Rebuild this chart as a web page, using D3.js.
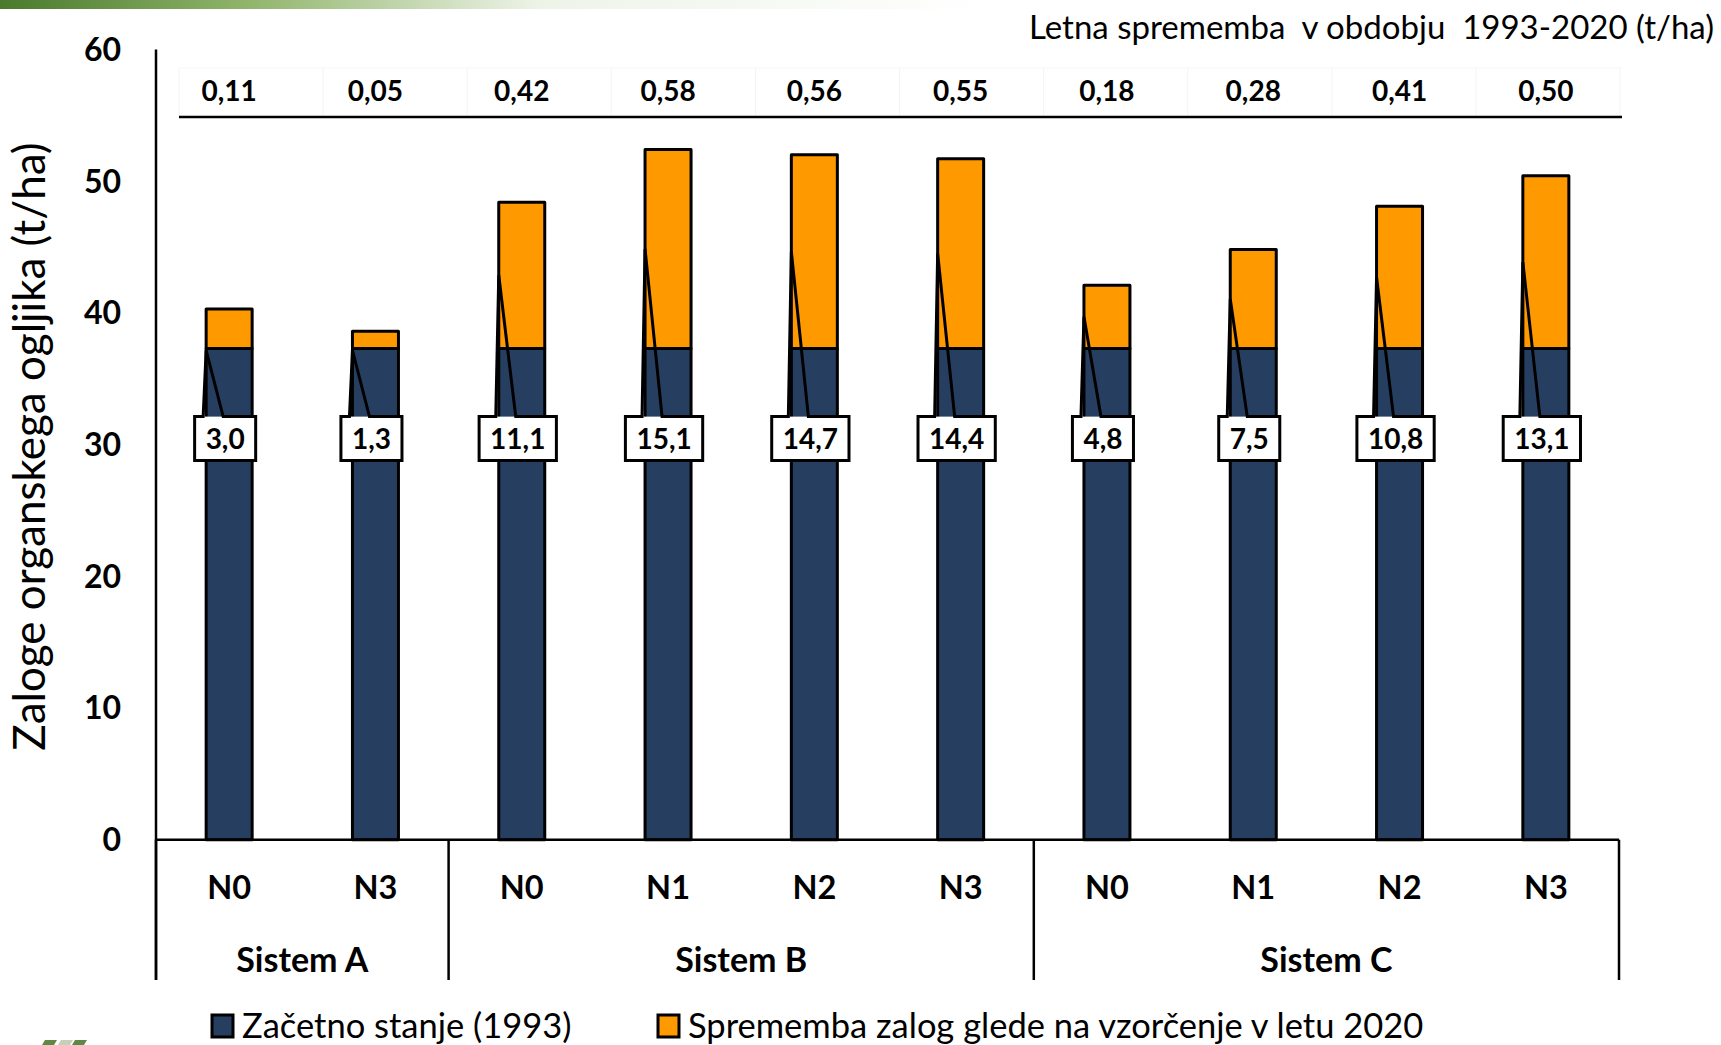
<!DOCTYPE html>
<html>
<head>
<meta charset="utf-8">
<script src="https://cdn.jsdelivr.net/npm/d3@7"></script>
<style>
  html, body { margin: 0; padding: 0; background: #fff; }
  svg { display: block; }
  text { font-family: Lato, "Open Sans", sans-serif; fill: #000; }
</style>
</head>
<body>
<svg id="chart" width="1721" height="1045"></svg>
<script>
// ---------------- data ----------------
const categories = ["N0", "N3", "N0", "N1", "N2", "N3", "N0", "N1", "N2", "N3"];
const groupNames = ["Sistem A", "Sistem B", "Sistem C"];
const groupSizes = [2, 4, 4];
const initialStock = [37.3, 37.3, 37.3, 37.3, 37.3, 37.3, 37.3, 37.3, 37.3, 37.3];
const stockChange = [3.0, 1.3, 11.1, 15.1, 14.7, 14.4, 4.8, 7.5, 10.8, 13.1];
const annualChange = [0.11, 0.05, 0.42, 0.58, 0.56, 0.55, 0.18, 0.28, 0.41, 0.50];
const yTicks = [0, 10, 20, 30, 40, 50, 60];
const seriesNames = ["Začetno stanje (1993)", "Sprememba zalog glede na vzorčenje v letu 2020"];
const tableTitle = "Letna sprememba  v obdobju  1993-2020 (t/ha)";
const yTitle = "Zaloge organskega ogljika (t/ha)";

// ---------------- layout ----------------
const pL = 156, pR = 1619, pT = 49.4, pB = 839.7;
const colors = ["#263F61", "#FF9900"];
const svg = d3.select("#chart");

const ids = categories.map((c, i) => i);
const x = d3.scaleBand().domain(ids).range([pL, pR]).padding(0);
const y = d3.scaleLinear().domain([0, 60]).range([pB, pT]);
const barW = 46;
const commaFmt = (f) => (v) => d3.format(f)(v).replace(".", ",");

// decorative green gradient top bar
const defs = svg.append("defs");
const grad = defs.append("linearGradient").attr("id", "topgrad").attr("x1", "0").attr("x2", "1");
grad.append("stop").attr("offset", "0").attr("stop-color", "#4a7a2c");
grad.append("stop").attr("offset", "0.25").attr("stop-color", "#8fb46a");
grad.append("stop").attr("offset", "0.55").attr("stop-color", "#eef3e8");
grad.append("stop").attr("offset", "1").attr("stop-color", "#ffffff");
svg.append("rect").attr("x", 0).attr("y", 0).attr("width", 980).attr("height", 9).attr("fill", "url(#topgrad)");

// ---------------- top table (annual change) ----------------
const tableTop = 68, tableLine = 117;
svg.append("g").selectAll("line").data(d3.range(categories.length + 1)).join("line")
  .attr("x1", i => pL + 23 + i * x.bandwidth() * 0.985)
  .attr("x2", i => pL + 23 + i * x.bandwidth() * 0.985)
  .attr("y1", tableTop).attr("y2", tableLine)
  .attr("stroke", "#f4f4f4").attr("stroke-width", 1);
svg.append("line").attr("x1", 179).attr("x2", 1622).attr("y1", tableTop).attr("y2", tableTop)
  .attr("stroke", "#f6f6f6").attr("stroke-width", 1);
svg.append("line").attr("x1", 179).attr("x2", 1622).attr("y1", tableLine).attr("y2", tableLine)
  .attr("stroke", "#000").attr("stroke-width", 2.5);
svg.append("g").selectAll("text").data(ids).join("text")
  .attr("x", i => x(i) + x.bandwidth() / 2)
  .attr("y", 101)
  .attr("text-anchor", "middle")
  .attr("font-size", 28).attr("font-weight", 700)
  .text(i => commaFmt(".2f")(annualChange[i]));
svg.append("text").attr("x", 1714).attr("y", 39).attr("text-anchor", "end")
  .attr("font-size", 33).style("white-space", "pre").text(tableTitle);

// ---------------- y axis ----------------
svg.append("line").attr("x1", pL).attr("x2", pL).attr("y1", pT).attr("y2", 980)
  .attr("stroke", "#000").attr("stroke-width", 2.5);
svg.append("g").selectAll("text").data(yTicks).join("text")
  .attr("x", 121).attr("y", d => y(d) + 11.5)
  .attr("text-anchor", "end").attr("font-size", 32).attr("font-weight", 700)
  .text(d => d);
svg.append("text")
  .attr("transform", `translate(45, ${(pT + pB) / 2 + 2}) rotate(-90)`)
  .attr("text-anchor", "middle").attr("font-size", 44)
  .text(yTitle);

// ---------------- bars ----------------
const stacked = ids.map(i => [
  { s: 0, y0: 0, y1: initialStock[i], i },
  { s: 1, y0: initialStock[i], y1: initialStock[i] + stockChange[i], i }
]);
const barG = svg.append("g");
barG.selectAll("g").data(stacked).join("g")
  .selectAll("rect").data(d => d).join("rect")
  .attr("x", d => x(d.i) + (x.bandwidth() - barW) / 2)
  .attr("width", barW)
  .attr("y", d => y(d.y1))
  .attr("height", d => y(d.y0) - y(d.y1))
  .attr("fill", d => colors[d.s])
  .attr("stroke", "#000").attr("stroke-width", 3).attr("stroke-linejoin", "round");

// ---------------- x axis / category table ----------------
svg.append("line").attr("x1", pL).attr("x2", pR).attr("y1", pB).attr("y2", pB)
  .attr("stroke", "#000").attr("stroke-width", 2.5);
const groupBounds = [0];
groupSizes.forEach((n, k) => groupBounds.push(groupBounds[k] + n));
svg.append("g").selectAll("line").data(groupBounds).join("line")
  .attr("x1", b => pL + b * x.bandwidth()).attr("x2", b => pL + b * x.bandwidth())
  .attr("y1", pB).attr("y2", 980)
  .attr("stroke", "#000").attr("stroke-width", 2.5);
svg.append("g").selectAll("text").data(ids).join("text")
  .attr("x", i => x(i) + x.bandwidth() / 2).attr("y", 899)
  .attr("text-anchor", "middle").attr("font-size", 32.5).attr("font-weight", 700)
  .text(i => categories[i]);
svg.append("g").selectAll("text").data(groupNames).join("text")
  .attr("x", (g, k) => pL + (groupBounds[k] + groupBounds[k + 1]) / 2 * x.bandwidth())
  .attr("y", 972)
  .attr("text-anchor", "middle").attr("font-size", 34).attr("font-weight", 700)
  .text(g => g);

// ---------------- callouts ----------------
const calloutCenter = 30.45;
const boxH = 44;
const cg = svg.append("g");
ids.forEach(i => {
  const barLeft = x(i) + (x.bandwidth() - barW) / 2;
  const cx = x(i) + x.bandwidth() / 2 - 4;
  const label = commaFmt(".1f")(stockChange[i]);
  const t = cg.append("text").attr("x", cx).attr("y", y(calloutCenter) + 10)
    .attr("text-anchor", "middle").attr("font-size", 28).attr("font-weight", 700).text(label);
  const tw = t.node().getComputedTextLength();
  const bw = tw + 22;
  const bL = cx - bw / 2, bR = cx + bw / 2;
  const bT = y(calloutCenter) - boxH / 2, bB = bT + boxH;
  const tipV = stockChange[i] >= 4 ? initialStock[i] + stockChange[i] / 2 : initialStock[i];
  const tipY = y(tipV) + (stockChange[i] >= 4 ? 0 : 2);
  const wL = barLeft - 3, wR = barLeft + 17;
  cg.insert("rect", "text").attr("x", bL).attr("y", bT).attr("width", bw).attr("height", boxH).attr("fill", "#fff");
  const p = d3.path();
  p.moveTo(bL, bT); p.lineTo(wL, bT); p.lineTo(barLeft, tipY); p.lineTo(wR, bT);
  p.lineTo(bR, bT); p.lineTo(bR, bB); p.lineTo(bL, bB); p.closePath();
  cg.insert("path", "text").attr("d", p.toString()).attr("fill", "none")
    .attr("stroke", "#000").attr("stroke-width", 3).attr("stroke-linejoin", "miter");
});

// ---------------- legend ----------------
const legendX = [212, 658];
const lg = svg.append("g");
seriesNames.forEach((n, k) => {
  lg.append("rect").attr("x", legendX[k]).attr("y", 1015).attr("width", 21).attr("height", 22)
    .attr("fill", colors[k]).attr("stroke", "#000").attr("stroke-width", 3);
  lg.append("text").attr("x", legendX[k] + 30).attr("y", 1038).attr("font-size", 34.5).text(n);
});

// small logo fragment bottom-left
const logo = svg.append("g").attr("fill", "#4f7a32");
[[42, 12], [58, 12], [72, 12]].forEach(([lx, lw], k) => {
  logo.append("path").attr("d", `M${lx + 3},1040 L${lx + lw + 3},1040 L${lx + lw},1045 L${lx},1045 Z`)
    .attr("opacity", k === 1 ? 0.35 : 0.9);
});
</script>
</body>
</html>
